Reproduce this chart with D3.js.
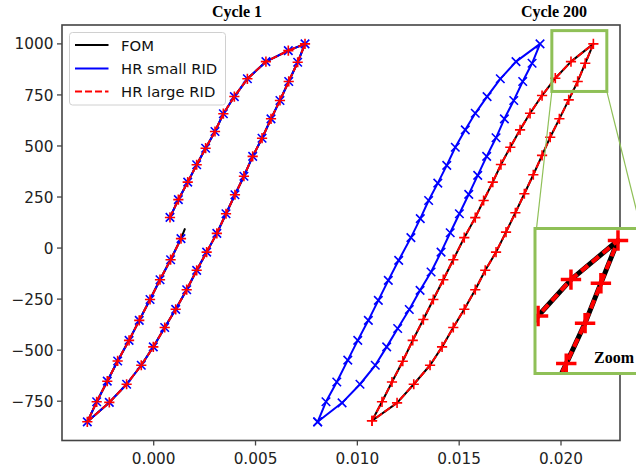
<!DOCTYPE html>
<html><head><meta charset="utf-8">
<script src="https://cdn.jsdelivr.net/npm/d3@7"></script>
<style>body{margin:0;background:#fff;overflow:hidden}svg{display:block}</style>
</head><body>
<svg id="c" width="636" height="470"></svg>
<script>
// ---- data (strain, stress) ----
const seriesNames = ["FOM", "HR small RID", "HR large RID"];
const xTicks = [0.000, 0.005, 0.010, 0.015, 0.020];
const yTicks = [-750, -500, -250, 0, 250, 500, 750, 1000];
const panelTitles = ["Cycle 1", "Cycle 200"];

// Cycle 1: all three models coincide (markers every ~100 MPa)
const cycle1 = [
 [0.00080,150],[0.00121,237],[0.00167,323],[0.00211,408],[0.00255,489],[0.00301,571],
 [0.00342,658],[0.00396,742],[0.00460,829],[0.00551,913],[0.00661,967],[0.00743,1000],
 [0.00707,910],[0.00663,816],[0.00620,723],[0.00576,633],[0.00532,538],[0.00486,449],
 [0.00443,352],[0.00399,261],[0.00355,168],[0.00310,72],[0.00260,-20],[0.00211,-109],
 [0.00162,-204],[0.00108,-300],[0.00054,-389],[-0.00002,-484],[-0.00061,-574],[-0.00133,-667],
 [-0.00218,-756],[-0.00326,-851],[-0.00280,-753],[-0.00228,-652],[-0.00177,-553],[-0.00121,-452],
 [-0.00071,-354],[-0.00018,-252],[0.00031,-155],[0.00083,-57],[0.00134,46]
];
const fomCycle1End = [0.00154,96];

// Cycle 200: HR small RID
const small200 = [
 [0.00805,-851],[0.00846,-753],[0.00899,-656],[0.00953,-549],[0.01002,-452],[0.01054,-354],
 [0.01103,-256],[0.01152,-158],[0.01203,-60],[0.01263,51],[0.01309,144],[0.01350,233],
 [0.01395,318],[0.01439,405],[0.01481,494],[0.01530,579],[0.01579,660],[0.01637,742],
 [0.01702,829],[0.01779,913],[0.01897,1000],
 [0.01858,905],[0.01812,816],[0.01768,723],[0.01722,633],[0.01681,540],[0.01635,449],
 [0.01591,356],[0.01547,263],[0.01501,168],[0.01456,75],[0.01411,-20],[0.01362,-117],
 [0.01308,-207],[0.01255,-301],[0.01198,-394],[0.01144,-484],[0.01088,-574],[0.01013,-667],
 [0.00925,-758],[0.00805,-851]
];
// Cycle 200: HR large RID (coincides with FOM)
const large200 = [
 [0.01072,-846],[0.01121,-753],[0.01170,-656],[0.01223,-554],[0.01272,-452],[0.01324,-350],
 [0.01373,-252],[0.01422,-155],[0.01471,-57],[0.01525,51],[0.01579,149],[0.01620,233],
 [0.01665,323],[0.01705,409],[0.01751,494],[0.01799,579],[0.01848,660],[0.01907,747],
 [0.01972,832],[0.02049,913],[0.02159,1000],
 [0.02119,905],[0.02082,816],[0.02038,726],[0.01992,633],[0.01947,543],[0.01907,454],
 [0.01864,359],[0.01820,266],[0.01776,173],[0.01730,78],[0.01681,-20],[0.01628,-109],
 [0.01579,-204],[0.01525,-300],[0.01471,-389],[0.01416,-484],[0.01357,-574],[0.01277,-667],
 [0.01195,-758],[0.01072,-846]
];
const fom200 = large200;
const fom1 = cycle1.concat([fomCycle1End]);

// zoom window (data units) of the inset and of the marking box
const insetX = [0.019649, 0.022128];
const insetY = [704, 1026.7];
const boxX = [0.01955, 0.02225];
const boxY = [767, 1065];

// ---- drawing ----
const svg = d3.select("#c");
const M = {l:62, r:620, t:25, b:440.5};
const x = d3.scaleLinear().domain([-0.004503, 0.022897]).range([M.l, M.r]);
const y = d3.scaleLinear().domain([-942.5, 1092.5]).range([M.b, M.t]);
const C = {fom:"#000000", small:"#0000ff", large:"#ff0000"};
const green = "#8fc057";
const axisCol = "#444";

const g = svg.append("g");
const line = (sx, sy) => d3.line().x(d=>sx(d[0])).y(d=>sy(d[1]));

function drawSet(parent, sx, sy, fom, small, large, opt) {
  parent.append("path").datum(fom).attr("d", line(sx,sy)).attr("fill","none")
    .attr("stroke", C.fom).attr("stroke-width", opt.flw || opt.lw).attr("stroke-linejoin","round");
  if (small) {
    parent.append("path").datum(small).attr("d", line(sx,sy)).attr("fill","none")
      .attr("stroke", C.small).attr("stroke-width", opt.lw).attr("stroke-linejoin","round");
    const h = opt.ms/2;
    parent.append("g").selectAll("path").data(small).join("path")
      .attr("d", d=>{const cx=sx(d[0]), cy=sy(d[1]);
        return `M${cx-h},${cy-h}L${cx+h},${cy+h}M${cx-h},${cy+h}L${cx+h},${cy-h}`;})
      .attr("stroke", C.small).attr("stroke-width", opt.mw).attr("fill","none");
  }
  parent.append("path").datum(large).attr("d", line(sx,sy)).attr("fill","none")
    .attr("stroke", C.large).attr("stroke-width", opt.lw).attr("stroke-dasharray", opt.dash);
  const h2 = opt.ms*0.6;
  parent.append("g").selectAll("path").data(large).join("path")
    .attr("d", d=>{const cx=sx(d[0]), cy=sy(d[1]);
      return `M${cx-h2},${cy}L${cx+h2},${cy}M${cx},${cy-h2}L${cx},${cy+h2}`;})
    .attr("stroke", C.large).attr("stroke-width", opt.mw).attr("fill","none");
}

const mainOpt = {lw:2, ms:8.5, mw:1.6, dash:"7,3"};
drawSet(g, x, y, fom1, cycle1, cycle1, mainOpt);
drawSet(g, x, y, fom200, small200, large200, mainOpt);

// axes
const fmtX = d => d3.format(".3f")(d).replace("-", "\u2212");
const fmtY = d => String(d).replace("-", "\u2212");
const ax = svg.append("g");
ax.append("rect").attr("x",M.l).attr("y",M.t).attr("width",M.r-M.l).attr("height",M.b-M.t)
  .attr("fill","none").attr("stroke",axisCol).attr("stroke-width",1.6);
xTicks.forEach(t=>{
  const px = x(t);
  ax.append("line").attr("x1",px).attr("x2",px).attr("y1",M.b).attr("y2",M.b+5)
    .attr("stroke",axisCol).attr("stroke-width",1.3);
  ax.append("text").attr("x",px).attr("y",463.5).attr("text-anchor","middle")
    .attr("font-family","DejaVu Sans").attr("font-size",15.3).attr("fill","#222").text(fmtX(t));
});
yTicks.forEach(t=>{
  const py = y(t);
  ax.append("line").attr("x1",M.l-5).attr("x2",M.l).attr("y1",py).attr("y2",py)
    .attr("stroke",axisCol).attr("stroke-width",1.3);
  ax.append("text").attr("x",53.5).attr("y",py+5.6).attr("text-anchor","end")
    .attr("font-family","DejaVu Sans").attr("font-size",15.3).attr("fill","#222").text(fmtY(t));
});

// titles
[[237,panelTitles[0]],[554,panelTitles[1]]].forEach(([cx,t])=>{
  svg.append("text").attr("x",cx).attr("y",17).attr("text-anchor","middle")
    .attr("font-family","Liberation Serif").attr("font-weight","bold").attr("font-size",16)
    .attr("fill","#000").text(t);
});

// legend
const lg = svg.append("g");
lg.append("rect").attr("x",69.5).attr("y",32.5).attr("width",156).attr("height",72.5).attr("rx",3)
  .attr("fill","#fff").attr("fill-opacity",0.85).attr("stroke","#d0d0d0").attr("stroke-width",1);
const legCols = [C.fom, C.small, C.large];
[45, 68.5, 91.5].forEach((ly,i)=>{
  lg.append("line").attr("x1",75).attr("x2",108.5).attr("y1",ly).attr("y2",ly)
    .attr("stroke",legCols[i]).attr("stroke-width",2).attr("stroke-dasharray", i===2?"7,3":null);
  lg.append("text").attr("x",121).attr("y",ly+5.5).attr("font-family","DejaVu Sans")
    .attr("font-size",14.8).attr("fill","#111").text(seriesNames[i]);
});

// inset marking box and connectors
const bx0=x(boxX[0]), bx1=x(boxX[1]), by0=y(boxY[1]), by1=y(boxY[0]);
svg.append("rect").attr("x",bx0).attr("y",by0).attr("width",bx1-bx0).attr("height",by1-by0)
  .attr("fill","none").attr("stroke",green).attr("stroke-width",3);
const I = {l:535, r:641, t:228.5, b:373.5};
svg.append("line").attr("x1",bx0).attr("y1",by1).attr("x2",I.l+1.5).attr("y2",I.t)
  .attr("stroke",green).attr("stroke-width",1.2);
svg.append("line").attr("x1",bx1).attr("y1",by1).attr("x2",I.r).attr("y2",I.t)
  .attr("stroke",green).attr("stroke-width",1.2);

// inset
const ix = d3.scaleLinear().domain(insetX).range([I.l, I.r]);
const iy = d3.scaleLinear().domain(insetY).range([I.b, I.t]);
svg.append("clipPath").attr("id","ic").append("rect")
  .attr("x",I.l).attr("y",I.t).attr("width",I.r-I.l).attr("height",I.b-I.t);
svg.append("rect").attr("x",I.l).attr("y",I.t).attr("width",I.r-I.l).attr("height",I.b-I.t).attr("fill","#fff");
const ig = svg.append("g").attr("clip-path","url(#ic)");
drawSet(ig, ix, iy, fom200, null, large200, {lw:4, flw:5, ms:17, mw:3.5, dash:"9,5"});
svg.append("text").attr("x",594).attr("y",363).attr("font-family","Liberation Serif")
  .attr("font-weight","bold").attr("font-size",16).attr("fill","#000").text("Zoom");
svg.append("rect").attr("x",I.l).attr("y",I.t).attr("width",I.r-I.l).attr("height",I.b-I.t)
  .attr("fill","none").attr("stroke",green).attr("stroke-width",3);
</script>
</body></html>
